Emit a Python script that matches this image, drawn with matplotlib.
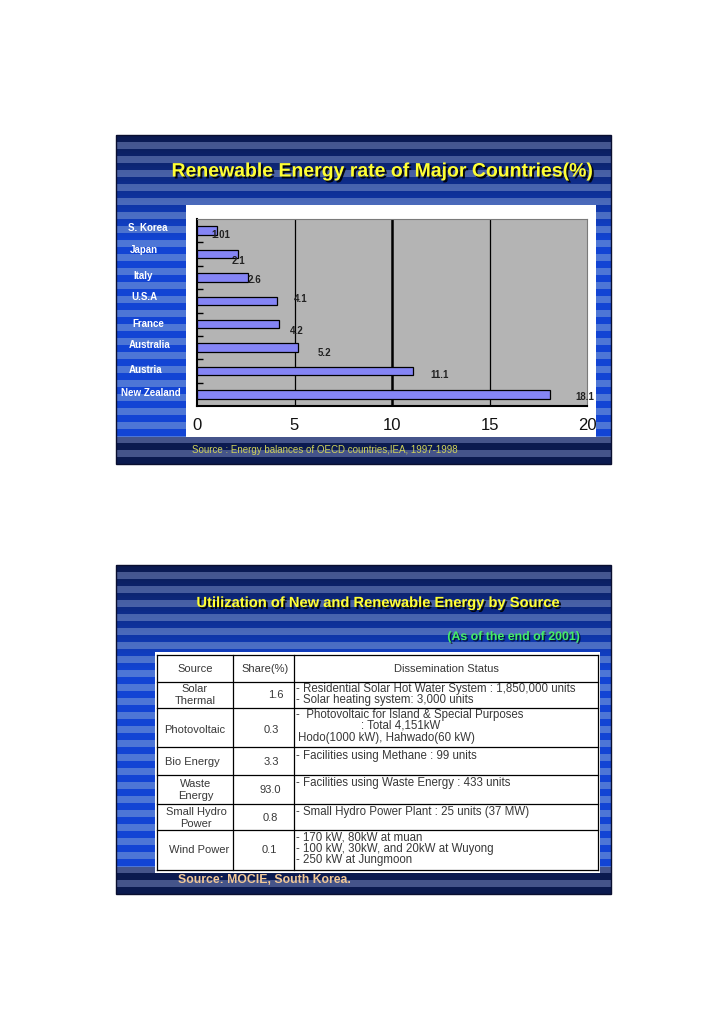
import matplotlib
matplotlib.use("Agg")
import matplotlib.pyplot as plt
import matplotlib.patheffects as pe
from matplotlib.patches import Rectangle
import numpy as np

plt.rcParams["font.family"] = ["Liberation Sans", "DejaVu Sans"]

# ---- slide 1: bar chart data ----
COUNTRIES = ["S. Korea", "Japan", "Italy", "U.S.A", "France", "Australia", "Austria", "New Zealand"]
RATES = [1.01, 2.1, 2.6, 4.1, 4.2, 5.2, 11.1, 18.1]
X_TICKS = [0, 5, 10, 15, 20]
# value labels sit a little off the bar ends in the original (data units)
LABEL_DX = [0.19, 0.05, 0.37, 1.23, 0.93, 1.36, 1.36, 1.8]
LABEL_DY = [0.18, 0.29, 0.11, -0.08, 0.29, 0.23, 0.17, 0.11]
# country names are drawn on the striped strip left of the chart (pixels)
COUNTRY_X = [128, 130, 133, 131, 132, 129, 129, 121]
COUNTRY_Y = [228, 250, 276, 297, 324, 345, 370, 393]

# ---- slide 2: table data ----
HEADERS = ["Source", "Share(%)", "Dissemination Status"]
SOURCES = ["Solar\nThermal", "Photovoltaic", "Bio Energy", "Waste\nEnergy", "Small Hydro\nPower", "Wind Power"]
SHARES = ["1.6", "0.3", "3.3", "93.0", "0.8", "0.1"]
STATUS = [
    "- Residential Solar Hot Water System : 1,850,000 units",
    "- Solar heating system: 3,000 units",
    "-  Photovoltaic for Island & Special Purposes",
    ": Total 4,151kW",
    "Hodo(1000 kW), Hahwado(60 kW)",
    "- Facilities using Methane : 99 units",
    "- Facilities using Waste Energy : 433 units",
    "- Small Hydro Power Plant : 25 units (37 MW)",
    "- 170 kW, 80kW at muan",
    "- 100 kW, 30kW, and 20kW at Wuyong",
    "- 250 kW at Jungmoon",
]

# layout (pixels)
W, H = 728, 1030
SLIDE1 = (116, 135, 611, 464)
SLIDE2 = (116, 565, 611, 894)
ROW_Y = [655, 682, 708, 747, 775, 804, 830, 870]
COL_X = [157, 233, 294, 598]
SRC_Y = [695, 730, 762, 790, 818, 850]
SRC_X = [195, 195, 192, 196, 196, 199]
SHARE_X = [276, 271, 271, 270, 270, 269]
STATUS_X = [296, 296, 296, 361, 298, 296, 296, 296, 296, 296, 296]
STATUS_Y = [689, 700, 715, 726, 738, 756, 783, 812, 838, 849, 860]

DARK_A, DARK_B = np.array([11, 26, 79]), np.array([69, 84, 138])
BRIGHT_A, BRIGHT_B = np.array([18, 68, 212]), np.array([77, 118, 214])

TXT = "#383838"
SHADOW = [pe.withSimplePatchShadow(offset=(1.4, -1.4), shadow_rgbFace="#000000", alpha=0.9)]


def stripes(h, band=7, footer=0.915):
    rows = np.zeros((h, 1, 3))
    for r in range(h):
        f = r / h
        g = min(1.0, f / 0.32) if f < footer else 0.0
        a = DARK_A + (BRIGHT_A - DARK_A) * g
        b = DARK_B + (BRIGHT_B - DARK_B) * g
        rows[r, 0] = (a if (r // band) % 2 == 0 else b) / 255.0
    return rows


def draw_slide(ax, box):
    x0, y0, x1, y1 = box
    ax.imshow(stripes(y1 - y0), extent=(x0, x1, y1, y0), origin="upper",
              aspect="auto", interpolation="nearest", zorder=0)
    ax.add_patch(Rectangle((x0, y0), x1 - x0, y1 - y0, fill=False,
                           edgecolor="#0a0f30", linewidth=1.0, zorder=1))


fig = plt.figure(figsize=(W / 100, H / 100), dpi=100)
bg = fig.add_axes([0, 0, 1, 1])
bg.set_facecolor("white")

# ---- slide 1 ----
draw_slide(bg, SLIDE1)
bg.text(382.5, 172, "Renewable Energy rate of Major Countries(%)", ha="center", va="center",
        fontsize=14, fontweight="bold", color="#ffff33", path_effects=SHADOW, zorder=3)
bg.add_patch(Rectangle((186, 205), 410, 232, facecolor="white", edgecolor="none", zorder=2))
for name, x, y in zip(COUNTRIES, COUNTRY_X, COUNTRY_Y):
    bg.text(x, y, name, ha="left", va="center", fontsize=7, fontweight="bold",
            color="white", zorder=3)
bg.text(192, 450, "Source : Energy balances of OECD countries,IEA, 1997-1998", ha="left",
        va="center", fontsize=7, color="#d0d25a", zorder=3)

# ---- slide 2 ----
draw_slide(bg, SLIDE2)
bg.text(378.5, 603, "Utilization of New and Renewable Energy by Source", ha="center",
        va="center", fontsize=10.6, fontweight="bold", color="#ffff33",
        path_effects=SHADOW, zorder=3)
bg.text(514, 637, "(As of the end of 2001)", ha="center", va="center", fontsize=8.9,
        fontweight="bold", color="#44ee66",
        path_effects=[pe.withSimplePatchShadow(offset=(1, -1), shadow_rgbFace="#000000", alpha=0.6)],
        zorder=3)
bg.add_patch(Rectangle((COL_X[0] - 2, ROW_Y[0] - 3), COL_X[-1] - COL_X[0] + 4,
                       ROW_Y[-1] - ROW_Y[0] + 6, facecolor="white", edgecolor="none", zorder=2))
for y in ROW_Y:
    bg.plot([COL_X[0], COL_X[-1]], [y, y], color="black", lw=0.9, zorder=3)
for x in COL_X:
    bg.plot([x, x], [ROW_Y[0], ROW_Y[-1]], color="black", lw=0.9, zorder=3)

hy = (ROW_Y[0] + ROW_Y[1]) / 2
bg.text(195, hy, HEADERS[0], ha="center", va="center", fontsize=8, color=TXT, zorder=4)
bg.text(265, hy, HEADERS[1], ha="center", va="center", fontsize=8, color=TXT, zorder=4)
bg.text(446, hy, HEADERS[2], ha="center", va="center", fontsize=8, color=TXT, zorder=4)
for s, sh, x, sx, y in zip(SOURCES, SHARES, SRC_X, SHARE_X, SRC_Y):
    bg.text(x, y, s, ha="center", va="center", fontsize=8, color=TXT,
            linespacing=1.15, zorder=4)
    bg.text(sx, y, sh, ha="center", va="center", fontsize=8, color=TXT, zorder=4)
for t, x, y in zip(STATUS, STATUS_X, STATUS_Y):
    bg.text(x, y, t, ha="left", va="center", fontsize=8.3, color=TXT, zorder=4)
bg.text(178, 880, "Source: MOCIE, South Korea.", ha="left", va="center", fontsize=8.8,
        fontweight="bold", color="#f2c896", zorder=3)

bg.set_xlim(0, W)
bg.set_ylim(H, 0)
bg.axis("off")

# ---- bar chart axes ----
ax = fig.add_axes([197 / W, 1 - 406 / H, 390 / W, 187 / H])
ax.set_facecolor("#b4b4b4")
ypos = np.arange(len(COUNTRIES))
ax.barh(ypos, RATES, height=0.36, color="#8585f5", edgecolor="black", linewidth=0.9, zorder=3)
for v, lw in zip([5, 10, 15], [0.9, 1.8, 0.9]):
    ax.axvline(v, color="black", lw=lw, zorder=2)
for i, v in enumerate(RATES):
    ax.text(v + LABEL_DX[i], i + LABEL_DY[i], f"{v:g}", ha="center", va="center",
            fontsize=7, fontweight="bold", color="#222222", zorder=4)
ax.set_xlim(0, 20)
ax.set_ylim(len(COUNTRIES) - 0.5, -0.5)
ax.set_xticks(X_TICKS)
ax.set_xticklabels([str(t) for t in X_TICKS])
ax.tick_params(axis="x", length=0, pad=9, labelsize=12, labelcolor="#111111")
ax.set_yticks([])
ax.set_yticks(ypos[:-1] + 0.5, minor=True)
ax.tick_params(axis="y", which="minor", direction="in", length=4, width=1, color="black")
for side in ("left", "bottom"):
    ax.spines[side].set_color("black")
    ax.spines[side].set_linewidth(1.5)
for side in ("top", "right"):
    ax.spines[side].set_color("#7a7a7a")
    ax.spines[side].set_linewidth(0.8)

fig.savefig("out.png", dpi=100)
